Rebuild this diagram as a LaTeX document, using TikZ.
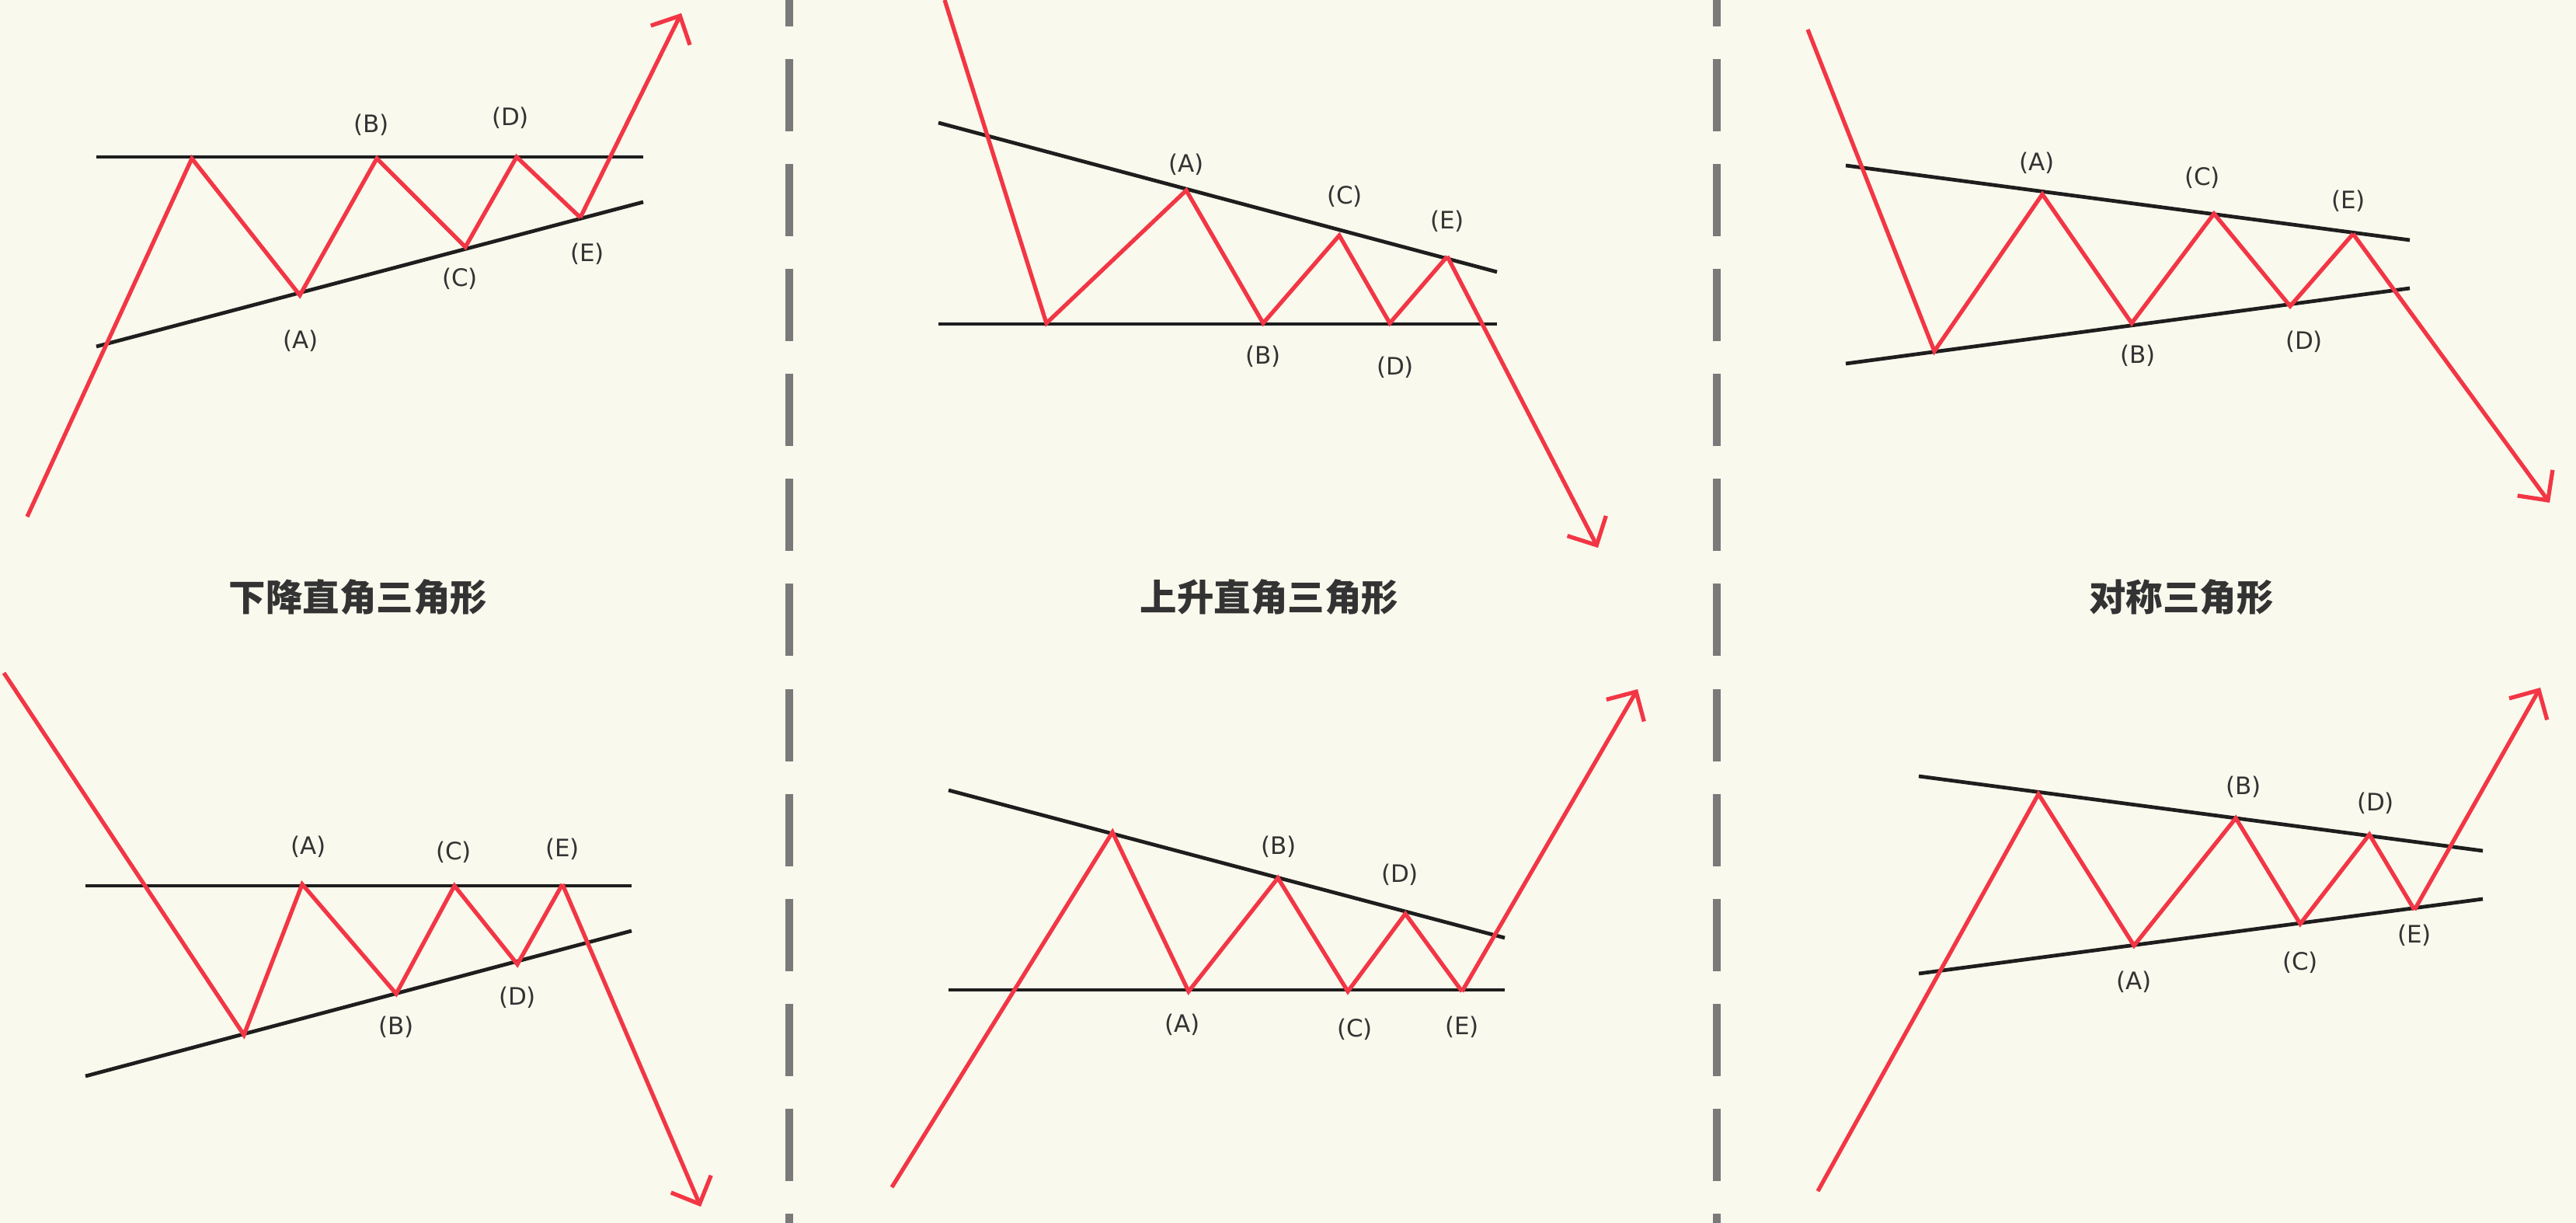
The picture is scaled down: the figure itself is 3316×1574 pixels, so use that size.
\documentclass[tikz,border=0pt]{standalone}
\usepackage{fontspec}
\usepackage{tikz}
\usetikzlibrary{positioning, arrows.meta}
\usepackage{xcolor}

\newfontfamily\lblfont{DejaVu Sans}
\newfontfamily\cjkfont{Noto Sans CJK SC}

\definecolor{bgcream}{RGB}{250,249,237}
\definecolor{trendred}{RGB}{242,54,69}
\definecolor{boundblack}{RGB}{30,30,30}
\definecolor{labelgray}{RGB}{51,51,51}
\definecolor{dividergray}{RGB}{122,122,122}

\begin{document}
\begin{tikzpicture}[
    x=0.01cm, y=-0.01cm,
    swing/.style={draw=trendred, line width=1.5pt},
    breakout/.style={swing, -{Straight Barb[length=2.8mm, width=5.6mm]}},
    bound/.style={draw=boundblack, line width=1.35pt},
    divider/.style={draw=dividergray, line width=2.85pt, dash pattern=on 0.93cm off 0.42cm, dash phase=0.59cm},
    ptlabel/.style={font=\lblfont\fontsize{8.8pt}{10pt}\selectfont, text=labelgray, inner sep=0pt},
    heading/.style={font=\cjkfont\bfseries\fontsize{13.5pt}{16pt}\selectfont, text=labelgray, inner sep=0pt}
]
    \useasboundingbox (0,0) rectangle (3316,1574);
    \fill[bgcream] (0,0) rectangle (3316,1574);

    \coordinate (dl1) at (1016,0);
    \coordinate (dl2) at (1016,1574);
    \coordinate (dr1) at (2210,0);
    \coordinate (dr2) at (2210,1574);
    \draw[divider] (dl1) -- (dl2);
    \draw[divider] (dr1) -- (dr2);

    % top left
    \coordinate (aTl) at (124,202);
    \coordinate (aTr) at (828,202);
    \coordinate (aBl) at (124,446);
    \coordinate (aBr) at (828,260);
    \coordinate (a0) at (35,665);
    \coordinate (a1) at (247,204);
    \coordinate (aA) at (386,380);
    \coordinate (aB) at (485,204);
    \coordinate (aC) at (599,318);
    \coordinate (aD) at (665,202);
    \coordinate (aE) at (747,280);
    \coordinate (aX) at (877,17);
    \draw[bound] (aTl) -- (aTr);
    \draw[bound] (aBl) -- (aBr);
    \draw[swing] (a0) -- (a1) -- (aA) -- (aB) -- (aC) -- (aD) -- (aE);
    \draw[breakout] (aE) -- (aX);
    \node[ptlabel] (aAl) at (387,439) {(A)};
    \node[ptlabel] (aBl) at (478,161) {(B)};
    \node[ptlabel] (aCl) at (592,359) {(C)};
    \node[ptlabel] (aDl) at (657,152) {(D)};
    \node[ptlabel] (aEl) at (756,327) {(E)};
    \node[heading] (aT) at (461,769) {下降直角三角形};

    % top middle
    \coordinate (bTl) at (1208,158);
    \coordinate (bTr) at (1927,350);
    \coordinate (bBl) at (1208,417);
    \coordinate (bBr) at (1927,417);
    \coordinate (b0) at (1216,0);
    \coordinate (b1) at (1347,416);
    \coordinate (bA) at (1527,245);
    \coordinate (bB) at (1626,416);
    \coordinate (bC) at (1724,303);
    \coordinate (bD) at (1789,416);
    \coordinate (bE) at (1863,330);
    \coordinate (bX) at (2057,705);
    \draw[bound] (bTl) -- (bTr);
    \draw[bound] (bBl) -- (bBr);
    \draw[swing] (b0) -- (b1) -- (bA) -- (bB) -- (bC) -- (bD) -- (bE);
    \draw[breakout] (bE) -- (bX);
    \node[ptlabel] (bAl) at (1527,212) {(A)};
    \node[ptlabel] (bBl) at (1626,459) {(B)};
    \node[ptlabel] (bCl) at (1731,253) {(C)};
    \node[ptlabel] (bDl) at (1796,473) {(D)};
    \node[ptlabel] (bEl) at (1863,285) {(E)};
    \node[heading] (bT) at (1634,769) {上升直角三角形};

    % top right
    \coordinate (cTl) at (2376,213);
    \coordinate (cTr) at (3102,309);
    \coordinate (cBl) at (2376,468);
    \coordinate (cBr) at (3102,371);
    \coordinate (c0) at (2327,38);
    \coordinate (c1) at (2490,452);
    \coordinate (cA) at (2629,250);
    \coordinate (cB) at (2744,416);
    \coordinate (cC) at (2850,275);
    \coordinate (cD) at (2948,394);
    \coordinate (cE) at (3029,301);
    \coordinate (cX) at (3282,647);
    \draw[bound] (cTl) -- (cTr);
    \draw[bound] (cBl) -- (cBr);
    \draw[swing] (c0) -- (c1) -- (cA) -- (cB) -- (cC) -- (cD) -- (cE);
    \draw[breakout] (cE) -- (cX);
    \node[ptlabel] (cAl) at (2622,210) {(A)};
    \node[ptlabel] (cBl) at (2752,458) {(B)};
    \node[ptlabel] (cCl) at (2835,229) {(C)};
    \node[ptlabel] (cDl) at (2966,440) {(D)};
    \node[ptlabel] (cEl) at (3023,259) {(E)};
    \node[heading] (cT) at (2808,769) {对称三角形};

    % bottom left
    \coordinate (dTl) at (110,1140);
    \coordinate (dTr) at (813,1140);
    \coordinate (dBl) at (110,1385);
    \coordinate (dBr) at (813,1198);
    \coordinate (d0) at (5,866);
    \coordinate (d1) at (314,1332);
    \coordinate (dA) at (389,1138);
    \coordinate (dB) at (510,1279);
    \coordinate (dC) at (585,1140);
    \coordinate (dD) at (666,1241);
    \coordinate (dE) at (724,1138);
    \coordinate (dX) at (902,1553);
    \draw[bound] (dTl) -- (dTr);
    \draw[bound] (dBl) -- (dBr);
    \draw[swing] (d0) -- (d1) -- (dA) -- (dB) -- (dC) -- (dD) -- (dE);
    \draw[breakout] (dE) -- (dX);
    \node[ptlabel] (dAl) at (397,1090) {(A)};
    \node[ptlabel] (dBl) at (510,1322) {(B)};
    \node[ptlabel] (dCl) at (584,1097) {(C)};
    \node[ptlabel] (dDl) at (666,1284) {(D)};
    \node[ptlabel] (dEl) at (724,1093) {(E)};

    % bottom middle
    \coordinate (eTl) at (1221,1017);
    \coordinate (eTr) at (1937,1207);
    \coordinate (eBl) at (1221,1274);
    \coordinate (eBr) at (1937,1274);
    \coordinate (e0) at (1148,1528);
    \coordinate (e1) at (1432,1071);
    \coordinate (eA) at (1530,1276);
    \coordinate (eB) at (1645,1130);
    \coordinate (eC) at (1735,1276);
    \coordinate (eD) at (1809,1176);
    \coordinate (eE) at (1882,1276);
    \coordinate (eX) at (2108,887);
    \draw[bound] (eTl) -- (eTr);
    \draw[bound] (eBl) -- (eBr);
    \draw[swing] (e0) -- (e1) -- (eA) -- (eB) -- (eC) -- (eD) -- (eE);
    \draw[breakout] (eE) -- (eX);
    \node[ptlabel] (eAl) at (1522,1319) {(A)};
    \node[ptlabel] (eBl) at (1646,1090) {(B)};
    \node[ptlabel] (eCl) at (1744,1325) {(C)};
    \node[ptlabel] (eDl) at (1802,1126) {(D)};
    \node[ptlabel] (eEl) at (1882,1322) {(E)};

    % bottom right
    \coordinate (fTl) at (2470,999);
    \coordinate (fTr) at (3196,1095);
    \coordinate (fBl) at (2470,1253);
    \coordinate (fBr) at (3196,1157);
    \coordinate (f0) at (2340,1533);
    \coordinate (f1) at (2624,1022);
    \coordinate (fA) at (2747,1217);
    \coordinate (fB) at (2878,1053);
    \coordinate (fC) at (2961,1189);
    \coordinate (fD) at (3050,1074);
    \coordinate (fE) at (3108,1171);
    \coordinate (fX) at (3270,885);
    \draw[bound] (fTl) -- (fTr);
    \draw[bound] (fBl) -- (fBr);
    \draw[swing] (f0) -- (f1) -- (fA) -- (fB) -- (fC) -- (fD) -- (fE);
    \draw[breakout] (fE) -- (fX);
    \node[ptlabel] (fAl) at (2747,1264) {(A)};
    \node[ptlabel] (fBl) at (2888,1013) {(B)};
    \node[ptlabel] (fCl) at (2961,1239) {(C)};
    \node[ptlabel] (fDl) at (3058,1034) {(D)};
    \node[ptlabel] (fEl) at (3108,1204) {(E)};
\end{tikzpicture}
\end{document}
